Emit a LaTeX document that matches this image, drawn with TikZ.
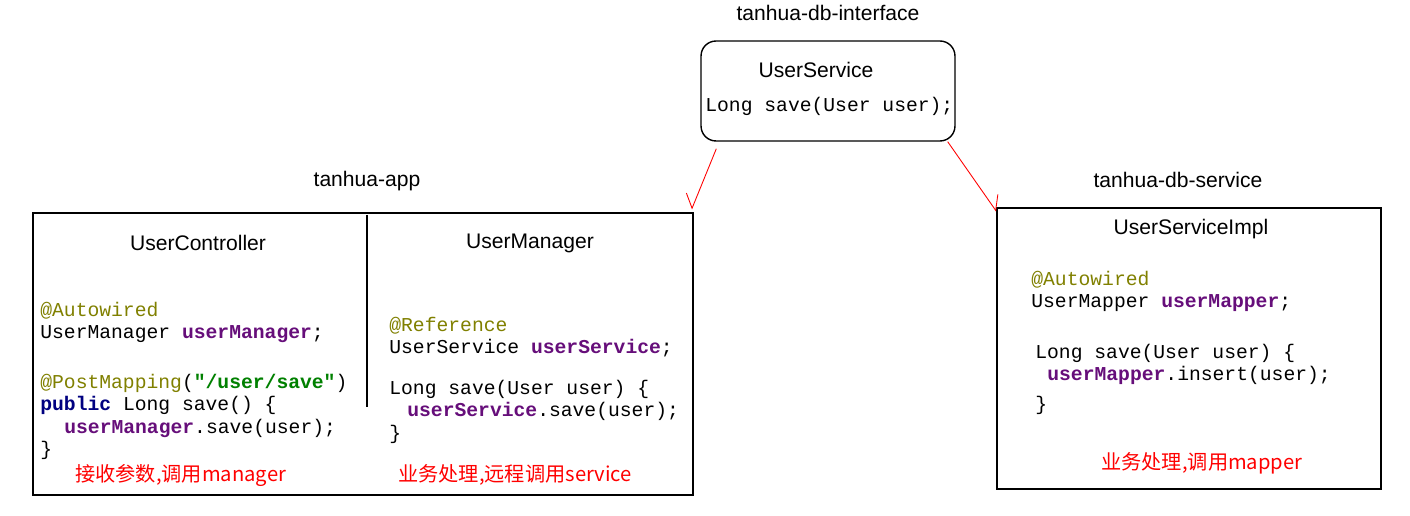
\documentclass[tikz,border=0pt]{standalone}
\usepackage{fontspec}
\setmainfont{Liberation Sans}
\setmonofont{Liberation Mono}
\newfontfamily\cjk{Noto Sans CJK SC}
\usepackage{xcolor}
\usetikzlibrary{arrows.meta, positioning}
\definecolor{annot}{HTML}{808000}
\definecolor{field}{HTML}{660E7A}
\definecolor{kw}{HTML}{000080}
\definecolor{str}{HTML}{008000}
\newcommand{\fld}[1]{\textbf{\color{field}#1}}

\begin{document}
\begin{tikzpicture}[x=0.02cm, y=-0.02cm,
        title/.style={font=\fontsize{12}{14}\selectfont},
        code/.style={anchor=west, inner sep=0pt, text height=1.6ex, text depth=.4ex, font=\fontsize{11.2}{13}\selectfont\ttfamily},
        note/.style={anchor=west, inner sep=0pt, text=red, font=\cjk\fontsize{11.5}{14}\selectfont},
        link/.style={draw=red, line width=0.5pt}]
    \useasboundingbox (0,0) rectangle (1410,516);

    % interface
    \node[title] (ifacetitle) at (828,13) {tanhua-db-interface};
    \node[draw, thick, rounded corners=0.3cm, minimum width=5.08cm, minimum height=2cm] (iface) at (828,91) {};
    \node[title] (ifacename) at (816,70) {UserService};
    \node[code] (ifacecode) at (705,106) {Long save(User user);};

    % app
    \node[title] (apptitle) at (367,181) {tanhua-app};
    \node[draw, thick, minimum width=13.2cm, minimum height=5.64cm] (app) at (363,354) {};
    \draw[thick] (367,215) -- (367,407);
    \node[title] (ctrlname) at (198,243) {UserController};
    \node[title] (mgrname) at (530,243) {UserManager};

    \node[code] (c1) at (40,311) {\color{annot}@Autowired};
    \node[code] (c2) at (40,333) {UserManager \fld{userManager};};
    \node[code] (c3) at (40,383) {{\color{annot}@PostMapping}(\textbf{\color{str}"/user/save"})};
    \node[code] (c4) at (40,405) {\textbf{\color{kw}public} Long save() \{};
    \node[code] (c5) at (64,428) {\fld{userManager}.save(user);};
    \node[code] (c6) at (40,450) {\}};
    \node[note] (ctrlnote) at (75,475) {接收参数,调用manager};

    \node[code] (m1) at (389,326) {\color{annot}@Reference};
    \node[code] (m2) at (389,348) {UserService \fld{userService};};
    \node[code] (m3) at (389,389) {Long save(User user) \{};
    \node[code] (m4) at (407,411) {\fld{userService}.save(user);};
    \node[code] (m5) at (389,434) {\}};
    \node[note] (mgrnote) at (398,475) {业务处理,远程调用service};

    % service
    \node[title] (impltitle) at (1178,180) {tanhua-db-service};
    \node[draw, thick, minimum width=7.68cm, minimum height=5.62cm] (impl) at (1189,348.5) {};
    \node[title] (implname) at (1191,229) {UserServiceImpl};
    \node[code] (s1) at (1031,280) {\color{annot}@Autowired};
    \node[code] (s2) at (1031,302) {UserMapper \fld{userMapper};};
    \node[code] (s3) at (1035,353) {Long save(User user) \{};
    \node[code] (s4) at (1047,375) {\fld{userMapper}.insert(user);};
    \node[code] (s5) at (1035,405) {\}};
    \node[note] (implnote) at (1101,463) {业务处理,调用mapper};

    \draw[link, -{Straight Barb[harpoon, swap, length=6.8pt, width=12.5pt]}] ([shift={(16,7)}]iface.south west) -- ([shift={(-2,-3)}]app.north east);
    \draw[link, -{Straight Barb[harpoon, length=6.8pt, width=12.5pt]}] ([shift={(-8,0)}]iface.south east) -- ([shift={(0,4)}]impl.north west);
\end{tikzpicture}
\end{document}
